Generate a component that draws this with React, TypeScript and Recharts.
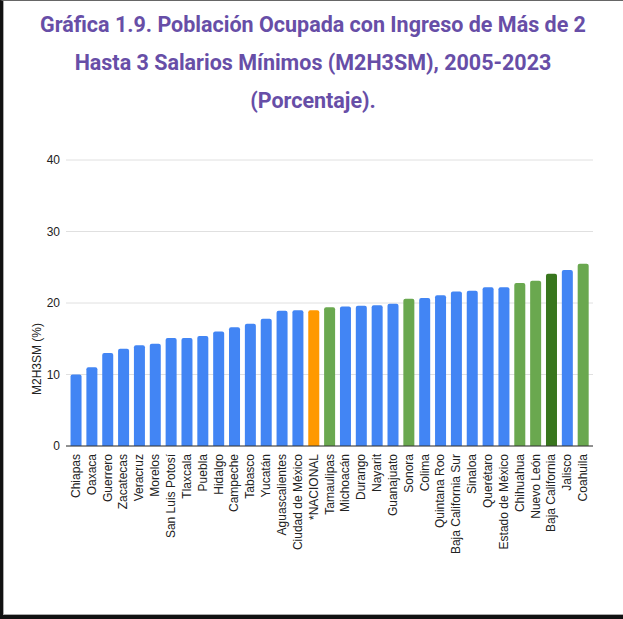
import { Bar, BarChart, CartesianGrid, Cell, XAxis, YAxis } from "recharts";

const states = [
  "Chiapas", "Oaxaca", "Guerrero", "Zacatecas", "Veracruz", "Morelos", "San Luis Potosí",
  "Tlaxcala", "Puebla", "Hidalgo", "Campeche", "Tabasco", "Yucatán", "Aguascalientes",
  "Ciudad de México", "*NACIONAL", "Tamaulipas", "Michoacán", "Durango", "Nayarit",
  "Guanajuato", "Sonora", "Colima", "Quintana Roo", "Baja California Sur", "Sinaloa",
  "Querétaro", "Estado de México", "Chihuahua", "Nuevo León", "Baja California", "Jalisco",
  "Coahuila",
];

const values = [
  10.0, 11.0, 13.0, 13.6, 14.1, 14.3, 15.1,
  15.1, 15.4, 16.0, 16.6, 17.1, 17.8, 18.9,
  19.0, 19.0, 19.4, 19.5, 19.6, 19.7,
  19.9, 20.6, 20.7, 21.1, 21.6, 21.7,
  22.2, 22.2, 22.8, 23.1, 24.1, 24.6,
  25.5,
];

// resto = other states, frontera = northern border states
const groups = [
  "resto", "resto", "resto", "resto", "resto", "resto", "resto",
  "resto", "resto", "resto", "resto", "resto", "resto", "resto",
  "resto", "nacional", "frontera", "resto", "resto", "resto",
  "resto", "frontera", "resto", "resto", "resto", "resto",
  "resto", "resto", "frontera", "frontera", "bc", "resto",
  "frontera",
];

const yTicks = [0, 10, 20, 30, 40];

const groupColors: Record<string, string> = {
  resto: "#4285F4",
  nacional: "#FF9900",
  frontera: "#6AA84F",
  bc: "#38761D",
};

const data = states.map((name, i) => ({ name, value: values[i], group: groups[i] }));

const axisFont = "'Liberation Sans', Arial, sans-serif";

function StateTick({ x, y, payload }: any) {
  return (
    <text
      x={x}
      y={y}
      transform={`rotate(-90, ${x}, ${y})`}
      textAnchor="end"
      dominantBaseline="central"
      fontSize={12}
      fontFamily={axisFont}
      fill="#222"
    >
      {payload.value}
    </text>
  );
}

function YLabel({ viewBox }: any) {
  const cx = viewBox.x + 7;
  const cy = viewBox.y + viewBox.height / 2 + 56;
  return (
    <text
      x={cx}
      y={cy}
      transform={`rotate(-90, ${cx}, ${cy})`}
      textAnchor="middle"
      dominantBaseline="central"
      fontSize={12}
      fontFamily={axisFont}
      fill="#222"
    >
      M2H3SM (%)
    </text>
  );
}

export default function App() {
  return (
    <div style={{ position: "absolute", left: 0, top: 0, width: 623, height: 619, background: "#fff" }}>
      <div
        style={{
          position: "absolute",
          left: 3,
          top: 6,
          width: 620,
          textAlign: "center",
          fontFamily: "Roboto, sans-serif",
          fontWeight: 700,
          fontSize: 21.5,
          lineHeight: "38px",
          color: "#674EA7",
        }}
      >
        Gráfica 1.9. Población Ocupada con Ingreso de Más de 2
        <br />
        Hasta 3 Salarios Mínimos (M2H3SM), 2005-2023
        <br />
        (Porcentaje).
      </div>
      <div style={{ position: "absolute", left: 0, top: 0 }}>
        <BarChart
          width={623}
          height={619}
          data={data}
          margin={{ top: 160, right: 30, left: 30, bottom: 53 }}
          barCategoryGap="16%"
        >
          <CartesianGrid stroke="#E0E0E0" vertical={false} />
          <XAxis
            dataKey="name"
            interval={0}
            height={120}
            padding={{ left: 2, right: 2 }}
            tick={<StateTick />}
            tickLine={false}
            axisLine={{ stroke: "#333" }}
          />
          <YAxis
            width={36}
            domain={[0, 40]}
            ticks={yTicks}
            axisLine={false}
            tickLine={false}
            tickMargin={0}
            tick={{ fontSize: 12, fill: "#222", fontFamily: axisFont }}
            label={<YLabel />}
          />
          <Bar dataKey="value" isAnimationActive={false} radius={[2, 2, 0, 0]}>
            {data.map((d) => (
              <Cell key={d.name} fill={groupColors[d.group]} />
            ))}
          </Bar>
        </BarChart>
      </div>
      <div
        style={{
          position: "absolute",
          inset: 0,
          boxSizing: "border-box",
          borderLeft: "3px solid #111",
          borderBottom: "4px solid #111",
          borderTop: "1px solid #666",
          boxShadow: "inset 1px -1px 0 #aaa",
          pointerEvents: "none",
        }}
      />
    </div>
  );
}
